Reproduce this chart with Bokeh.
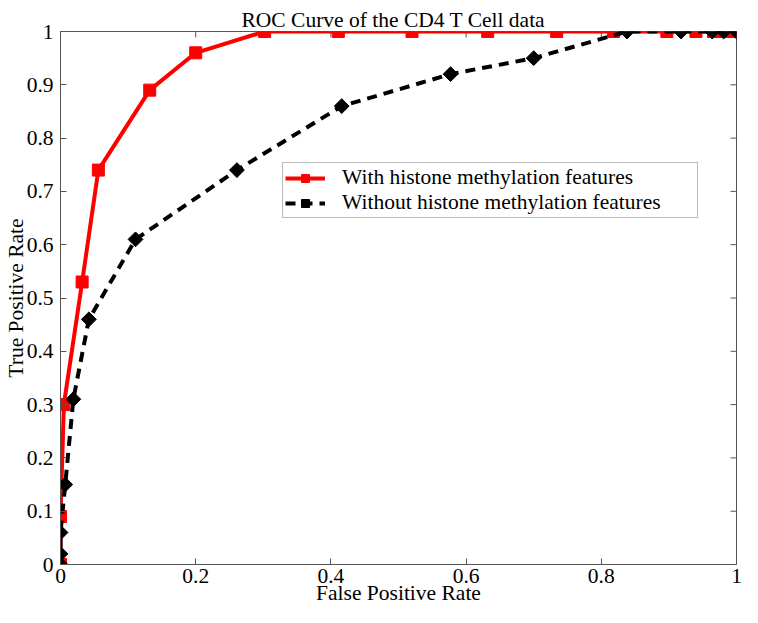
import math
from bokeh.plotting import figure
from bokeh.models import Range1d, Legend, LegendItem, FixedTicker
from bokeh.embed import file_html
from bokeh.resources import INLINE

# ---- data ----
with_fpr = [0.0, 0.0, 0.005, 0.032, 0.056, 0.132, 0.200, 0.302, 0.411, 0.520,
            0.632, 0.734, 0.818, 0.897, 0.940, 0.966, 0.983, 1.0]
with_tpr = [0.0, 0.09, 0.30, 0.53, 0.74, 0.89, 0.96, 1.0, 1.0, 1.0,
            1.0, 1.0, 1.0, 1.0, 1.0, 1.0, 1.0, 1.0]
without_fpr = [0.0, 0.0, 0.0, 0.007, 0.019, 0.042, 0.111, 0.261, 0.416, 0.577,
               0.700, 0.838, 0.918, 0.964, 0.981, 1.0]
without_tpr = [0.0, 0.02, 0.06, 0.15, 0.31, 0.46, 0.61, 0.74, 0.86, 0.92,
               0.95, 1.0, 1.0, 1.0, 1.0, 1.0]

x_ticks = [0, 0.2, 0.4, 0.6, 0.8, 1.0]
x_tick_labels = ["0", "0.2", "0.4", "0.6", "0.8", "1"]
y_ticks = [0, 0.1, 0.2, 0.3, 0.4, 0.5, 0.6, 0.7, 0.8, 0.9, 1.0]
y_tick_labels = ["0", "0.1", "0.2", "0.3", "0.4", "0.5", "0.6", "0.7", "0.8", "0.9", "1"]

label_with = "With histone methylation features"
label_without = "Without histone methylation features"
title_text = "ROC Curve of the CD4 T Cell data"

FONT = "Liberation Serif"
FS = "21.5px"
AX = "#555555"

X0, X1 = 0, 1
Y0, Y1 = 0, 1

p = figure(width=742, height=607, output_backend="svg", toolbar_location=None,
           x_range=Range1d(X0, X1), y_range=Range1d(Y0, Y1),
           min_border_left=52, min_border_right=6, min_border_top=31,
           min_border_bottom=0)

p.title.text = title_text
p.title.text_font = FONT
p.title.text_font_size = FS
p.title.text_font_style = "normal"
p.title.align = "left"
p.title.offset = 181
p.title.standoff = 0
p.title.text_color = "black"

p.grid.visible = False
p.outline_line_color = AX
p.outline_line_width = 1
p.background_fill_color = "white"
p.border_fill_color = "white"

for ax, ticks, labels in ((p.xaxis[0], x_ticks, x_tick_labels),
                          (p.yaxis[0], y_ticks, y_tick_labels)):
    ax.ticker = FixedTicker(ticks=ticks)
    ax.major_label_overrides = {t: l for t, l in zip(ticks, labels)}
    ax.minor_tick_line_color = None
    ax.major_tick_in = 6
    ax.major_tick_out = 0
    ax.axis_line_color = AX
    ax.major_tick_line_color = AX
    ax.major_label_text_font = FONT
    ax.major_label_text_font_size = FS
    ax.major_label_text_color = "black"
    ax.axis_label_text_font = FONT
    ax.axis_label_text_font_size = FS
    ax.axis_label_text_font_style = "normal"
    ax.axis_label_text_color = "black"

p.xaxis[0].axis_label = "False Positive Rate"
p.yaxis[0].axis_label = "True Positive Rate"
p.xaxis[0].major_label_standoff = 4
p.xaxis[0].axis_label_standoff = -5
p.yaxis[0].major_label_standoff = 7
p.yaxis[0].axis_label_standoff = -4

# inward tick marks on the top and right edges (half of each dash is clipped by the frame)
p.scatter(x_ticks, [Y1] * len(x_ticks), marker="dash", angle=math.pi / 2, size=12,
          line_color=AX, line_width=1)
p.scatter([X1] * len(y_ticks), y_ticks, marker="dash", size=12,
          line_color=AX, line_width=1)

r1 = p.line(with_fpr, with_tpr, line_color="#ff0000", line_width=4)
r2 = p.scatter(with_fpr, with_tpr, marker="square", size=12,
               fill_color="#ff0000", line_color="#ff0000")
r3 = p.line(without_fpr, without_tpr, line_color="black", line_width=4,
            line_dash="10 7")
r4 = p.scatter(without_fpr, without_tpr, marker="square", angle=math.pi / 4, size=10.5,
               fill_color="black", line_color="black")

legend = Legend(items=[LegendItem(label=label_with, renderers=[r1, r2]),
                       LegendItem(label=label_without, renderers=[r3, r4])],
                location=(222, 346))
legend.label_text_font = FONT
legend.label_text_font_size = FS
legend.label_text_color = "black"
legend.glyph_width = 40
legend.glyph_height = 20
legend.label_height = 20
legend.label_width = 353
legend.label_standoff = 17
legend.spacing = 0
legend.padding = 2
legend.margin = 0
legend.border_line_color = "#777777"
legend.border_line_width = 1
legend.background_fill_color = "white"
legend.background_fill_alpha = 1
p.add_layout(legend)

open("out.html", "w").write(file_html(p, INLINE))
